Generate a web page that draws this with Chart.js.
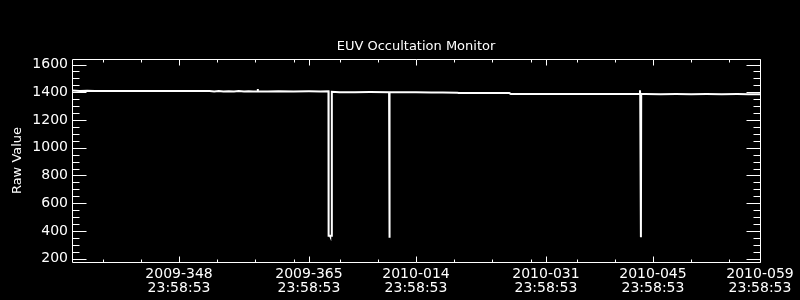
<!DOCTYPE html>
<html>
<head>
<meta charset="utf-8">
<title>EUV Occultation Monitor</title>
<script src="https://cdn.jsdelivr.net/npm/chart.js@4.4.0/dist/chart.umd.min.js"></script>
<style>
  html, body { margin: 0; padding: 0; background: #000; }
  #wrap { width: 800px; height: 300px; }
  canvas { background: #000; }
</style>
</head>
<body>
<div id="wrap"><canvas id="euv" width="800" height="300"></canvas></div>
<script>
// ── Data (x = days since 2009-334 23:58:53) ───────────────────
const sampleDays = [
    0, 1, 2, 3, 4, 6, 8, 10, 12, 14, 16, 18,
    18.6, 19.2, 19.8, 20.5, 21.2, 21.8, 22.5, 23.1, 23.7, 24.2, 24.28, 24.3, 24.32, 25, 25.6,
    27, 29, 31, 32.5, 33.55, 33.57, 33.75, 33.77, 33.79, 33.97, 33.99,
    35, 37, 39, 41.48, 41.52, 41.56, 43, 45, 47, 48.5, 50.4,
    50.6, 52, 54, 56, 57.2, 57.4, 59, 61, 63, 65, 67, 69, 71, 73,
    74.28, 74.3, 74.33, 74.42, 74.46, 75, 77, 79, 81, 83, 85, 87, 88.5, 90,
];
const rawValues = [
    1412, 1410, 1411, 1410, 1410, 1409, 1410, 1409, 1410, 1409, 1409, 1409,
    1406, 1409, 1405, 1408, 1406, 1409, 1405, 1408, 1406, 1408, 1407, 1424, 1407, 1406, 1405,
    1407, 1406, 1407, 1406, 1407, 366, 366, 362, 366, 366, 1403,
    1401, 1401, 1402, 1401, 351, 1400, 1401, 1400, 1399, 1398, 1397,
    1395, 1395, 1394, 1395, 1394, 1388, 1388, 1387, 1388, 1387, 1388, 1387, 1388, 1387,
    1387, 1414, 1387, 354, 1387, 1387, 1386, 1387, 1386, 1387, 1386, 1387, 1386, 1386,
];

// ── Axis ticks ────────────────────────────────────────────────
const xMajorDays   = [14, 31, 45, 62, 76, 90];
const xMajorLabels = [
    ['2009-348', '23:58:53'],
    ['2009-365', '23:58:53'],
    ['2010-014', '23:58:53'],
    ['2010-031', '23:58:53'],
    ['2010-045', '23:58:53'],
    ['2010-059', '23:58:53'],
];
const xMinorDays   = [4, 9, 19, 24, 29, 35, 40, 50, 55, 60, 66, 71, 81, 86];
const yMajorTicks  = [200, 400, 600, 800, 1000, 1200, 1400, 1600];
const yMinorTicks  = [250, 300, 350, 450, 500, 550, 650, 700, 750, 850, 900, 950,
                      1050, 1100, 1150, 1250, 1300, 1350, 1450, 1500, 1550];

const TITLE = 'EUV Occultation Monitor';
const FAMILY = 'DejaVu Sans, sans-serif';

// Box around the plot with inward ticks on all four sides, plus the title
const frameTicks = {
    id: 'frameTicks',
    afterDatasetsDraw(chart) {
        const { ctx, chartArea: a, scales: { x, y } } = chart;
        const L = Math.round(a.left) + 0.5, R = Math.round(a.right) + 0.5;
        const T = Math.round(a.top) + 0.5,  B = Math.round(a.bottom) + 0.5;
        ctx.save();
        ctx.strokeStyle = '#fff';
        ctx.lineWidth = 1;
        ctx.beginPath();
        ctx.rect(L, T, R - L, B - T);
        const xt = (d, len) => {
            const px = Math.round(x.getPixelForValue(d)) + 0.5;
            ctx.moveTo(px, B); ctx.lineTo(px, B - len);
            ctx.moveTo(px, T); ctx.lineTo(px, T + len);
        };
        const yt = (v, len) => {
            const py = Math.round(y.getPixelForValue(v)) + 0.5;
            ctx.moveTo(L, py); ctx.lineTo(L + len, py);
            ctx.moveTo(R, py); ctx.lineTo(R - len, py);
        };
        xMajorDays.forEach(d => xt(d, 6));
        xMinorDays.forEach(d => xt(d, 3));
        yMajorTicks.forEach(v => yt(v, 14));
        yMinorTicks.forEach(v => yt(v, 7));
        ctx.stroke();

        ctx.fillStyle = '#fff';
        ctx.font = `13px ${FAMILY}`;
        ctx.textAlign = 'center';
        ctx.textBaseline = 'middle';
        ctx.fillText(TITLE, (a.left + a.right) / 2, 47);
        ctx.restore();
    },
};

new Chart(document.getElementById('euv').getContext('2d'), {
    type: 'line',
    data: {
        datasets: [{
            data: sampleDays.map((d, i) => ({ x: d, y: rawValues[i] })),
            borderColor: '#fff',
            backgroundColor: '#fff',
            borderWidth: 2,
            pointRadius: 0,
            tension: 0,
        }],
    },
    options: {
        responsive: false,
        animation: false,
        layout: { padding: { left: 0, right: 40, top: 59, bottom: 0 } },
        plugins: {
            legend: { display: false },
            tooltip: { enabled: false },
            title: { display: false },
        },
        scales: {
            x: {
                type: 'linear',
                min: 0,
                max: 90,
                grid: { display: false, drawTicks: false },
                border: { display: false },
                afterFit: s => { s.height = 38; },
                afterBuildTicks: s => { s.ticks = xMajorDays.map(v => ({ value: v })); },
                ticks: {
                    color: '#fff',
                    font: { family: FAMILY, size: 14, lineHeight: '13.5px' },
                    padding: 6,
                    autoSkip: false,
                    maxRotation: 0,
                    callback: (v, i) => xMajorLabels[i],
                },
            },
            y: {
                min: 176,
                max: 1640,
                grid: { display: false, drawTicks: false },
                border: { display: false },
                afterFit: s => { s.width = 72; },
                afterBuildTicks: s => { s.ticks = yMajorTicks.map(v => ({ value: v })); },
                ticks: {
                    color: '#fff',
                    font: { family: FAMILY, size: 14 },
                    padding: 4,
                    callback: v => String(v),
                },
                title: {
                    display: true,
                    text: 'Raw Value',
                    color: '#fff',
                    font: { family: FAMILY, size: 13, lineHeight: 1.2 },
                    padding: { top: 10, bottom: 0 },
                },
            },
        },
    },
    plugins: [frameTicks],
});
</script>
</body>
</html>
